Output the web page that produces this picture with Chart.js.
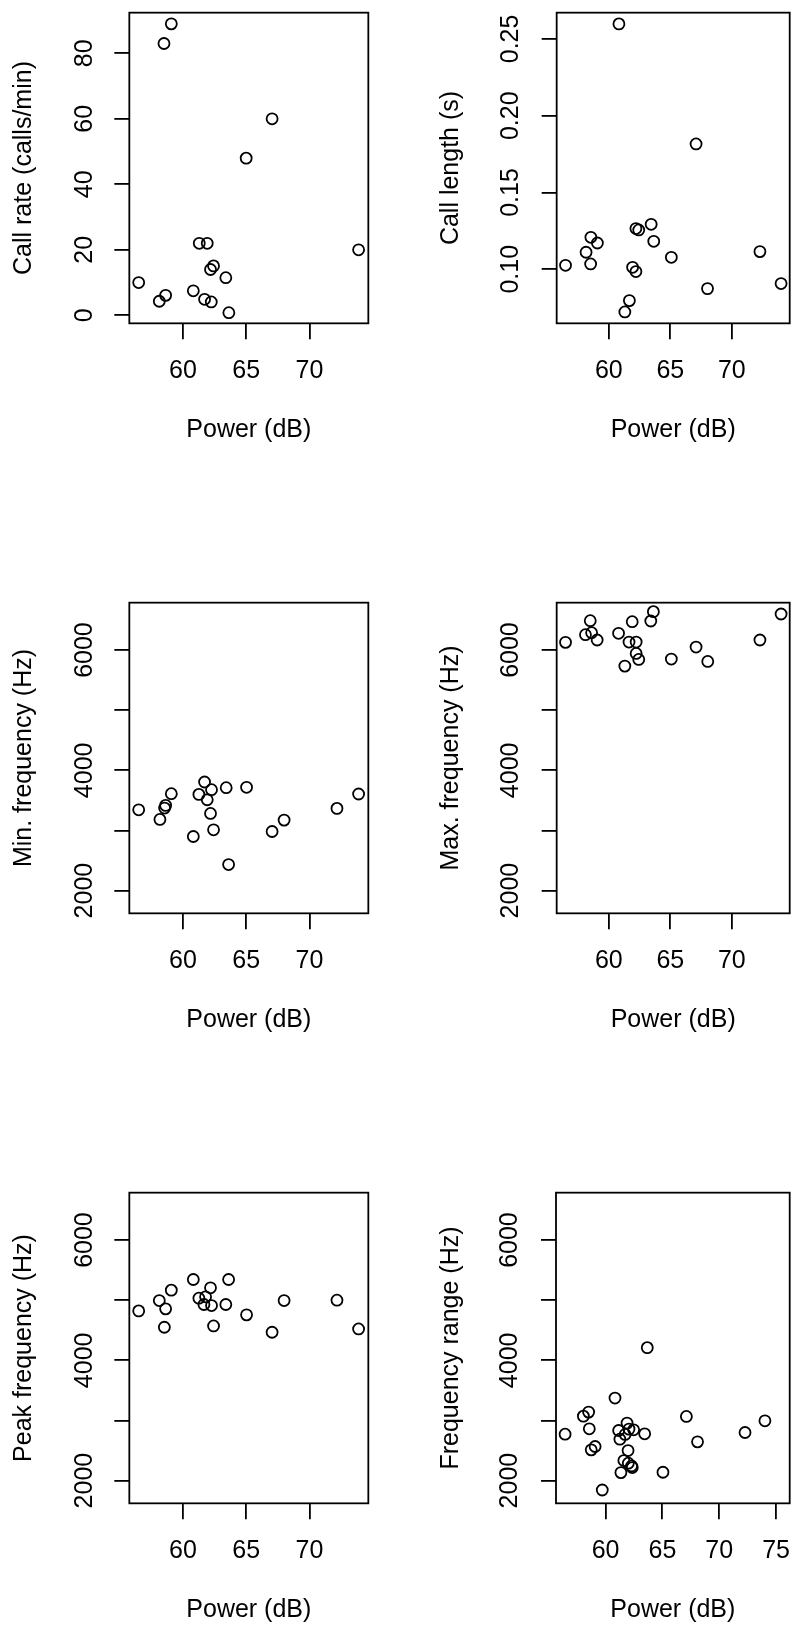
<!DOCTYPE html>
<html>
<head>
<meta charset="utf-8">
<script src="https://cdn.jsdelivr.net/npm/chart.js@4.4.1/dist/chart.umd.min.js"></script>
<style>
  html, body { margin: 0; padding: 0; background: #fff; }
  #page { position: relative; width: 797px; height: 1628px; overflow: hidden; }
  #page canvas { position: absolute; }
</style>
</head>
<body>
<div id="page"></div>
<script>
// 데이터: 패널별 Power(dB) 와 측정값
const callRatePower = [56.5, 58.13, 58.63, 58.5, 59.08, 60.82, 61.29, 61.92, 61.71, 62.24, 62.18, 62.42, 63.39, 63.63, 65.0, 67.05, 73.89];
const callRate = [10.0, 4.3, 6.1, 83.0, 89.0, 7.5, 22.0, 22.0, 4.9, 4.1, 14.0, 15.1, 11.5, 0.8, 48.0, 60.0, 20.0];

const callLengthPower = [56.48, 58.15, 58.54, 58.52, 59.07, 60.82, 61.3, 61.67, 61.93, 62.2, 62.2, 62.43, 63.44, 63.65, 65.08, 67.09, 68.02, 72.28, 74.0];
const callLength = [0.1026, 0.1111, 0.1208, 0.1035, 0.1171, 0.2598, 0.0722, 0.0796, 0.1013, 0.0985, 0.1265, 0.1256, 0.1293, 0.1182, 0.1078, 0.1816, 0.0874, 0.1115, 0.0907];

const minFreqPower = [56.5, 58.18, 58.55, 58.63, 59.08, 60.82, 61.26, 61.71, 61.92, 62.26, 62.18, 62.42, 63.42, 63.61, 65.03, 67.05, 68.0, 72.18, 73.89];
const minFreq = [3344, 3183, 3372, 3417, 3611, 2900, 3600, 3806, 3511, 3678, 3283, 3011, 3711, 2433, 3717, 2983, 3172, 3367, 3606];

const maxFreqPower = [56.48, 58.1, 58.49, 58.6, 59.05, 60.79, 61.3, 61.64, 61.9, 62.22, 62.22, 62.43, 63.41, 63.62, 65.08, 67.09, 68.04, 72.28, 74.0];
const maxFreq = [6128, 6256, 6489, 6289, 6167, 6278, 5733, 6133, 6472, 6133, 5944, 5844, 6483, 6639, 5850, 6050, 5811, 6167, 6600];

const peakFreqPower = [56.5, 58.13, 58.53, 58.63, 59.08, 60.82, 61.26, 61.66, 61.79, 62.18, 62.26, 62.42, 63.39, 63.61, 65.03, 67.05, 68.0, 72.18, 73.89];
const peakFreq = [4822, 4994, 4550, 4856, 5167, 5344, 5033, 4928, 5056, 5206, 4911, 4572, 4928, 5344, 4756, 4467, 4994, 5000, 4522];

const freqRangePower = [56.44, 58.05, 58.51, 58.57, 58.74, 59.08, 59.71, 60.83, 61.15, 61.26, 61.35, 61.61, 61.72, 61.89, 61.98, 62.06, 62.0, 62.29, 62.35, 62.47, 63.44, 63.67, 65.05, 67.11, 68.09, 72.27, 74.02];
const freqRange = [2772, 3072, 3139, 2861, 2511, 2567, 1844, 3372, 2833, 2689, 2133, 2333, 2767, 2956, 2500, 2856, 2289, 2244, 2217, 2844, 2778, 4211, 2139, 3067, 2644, 2800, 2994];

// 축 눈금
const powerTicks = [60, 65, 70];
const powerTicksWide = [60, 65, 70, 75];
const callRateTicks = [0, 20, 40, 60, 80];
const callRateTickLabels = ['0', '20', '40', '60', '80'];
const callLengthTicks = [0.10, 0.15, 0.20, 0.25];
const callLengthTickLabels = ['0.10', '0.15', '0.20', '0.25'];
const freqTicks = [2000, 3000, 4000, 5000, 6000];
const freqTickLabels = ['2000', '', '4000', '', '6000'];

const FAMILY = "'Liberation Sans', Arial, Helvetica, sans-serif";
const FONT = { family: FAMILY, size: 25 };
Chart.defaults.color = '#000';
Chart.defaults.font.family = FAMILY;
Chart.defaults.font.size = 25;

const CANVAS_H = 448;
const LINE_W = 1.8;

// 패널 배치 (box = 플롯 테두리 좌우, 페이지 좌표)
const panels = [
  { col: 0, row: 0, box: [129.33, 368.33], xs: callRatePower, ys: callRate, xTicks: powerTicks, xMin: 55.76, xMax: 74.66,
    yTicks: callRateTicks, yLabels: callRateTickLabels, yMin: -2.44, yMax: 92.42, yTitle: 'Call rate (calls/min)' },
  { col: 1, row: 0, box: [556.67, 796], xs: callLengthPower, ys: callLength, xTicks: powerTicks, xMin: 55.76, xMax: 74.7,
    yTicks: callLengthTicks, yLabels: callLengthTickLabels, yMin: 0.0648, yMax: 0.2671, yTitle: 'Call length (s)' },
  { col: 0, row: 1, box: [129.33, 368.33], xs: minFreqPower, ys: minFreq, xTicks: powerTicks, xMin: 55.76, xMax: 74.66,
    yTicks: freqTicks, yLabels: freqTickLabels, yMin: 1622, yMax: 6788, yTitle: 'Min. frequency (Hz)' },
  { col: 1, row: 1, box: [556.67, 796], xs: maxFreqPower, ys: maxFreq, xTicks: powerTicks, xMin: 55.76, xMax: 74.7,
    yTicks: freqTicks, yLabels: freqTickLabels, yMin: 1622, yMax: 6788, yTitle: 'Max. frequency (Hz)' },
  { col: 0, row: 2, box: [129.33, 368.33], xs: peakFreqPower, ys: peakFreq, xTicks: powerTicks, xMin: 55.76, xMax: 74.66,
    yTicks: freqTicks, yLabels: freqTickLabels, yMin: 1622, yMax: 6788, yTitle: 'Peak frequency (Hz)' },
  { col: 1, row: 2, box: [556, 795], xs: freqRangePower, ys: freqRange, xTicks: powerTicksWide, xMin: 55.64, xMax: 76.2,
    yTicks: freqTicks, yLabels: freqTickLabels, yMin: 1622, yMax: 6788, yTitle: 'Frequency range (Hz)' }
];

const colLeft = [0, 398];
const colWidth = [398, 399];
const rowTop = [0, 590, 1180];
const boxTop = 12.67, boxBottom = 323.33;   // 캔버스 기준
const yTitleX = [24.6, 451.3];               // 페이지 기준 y축 제목 중심
const yLabelGap = [44, 45.5];                // 테두리에서 y 눈금 글자 중심까지

// 플롯 테두리
const boxPlugin = {
  id: 'box',
  afterDatasetsDraw(chart) {
    const { ctx, chartArea: a } = chart;
    ctx.save();
    ctx.strokeStyle = '#000';
    ctx.lineWidth = LINE_W;
    ctx.strokeRect(a.left, a.top, a.right - a.left, a.bottom - a.top);
    ctx.restore();
  }
};

const page = document.getElementById('page');
const measure = document.createElement('canvas').getContext('2d');
measure.font = '25px ' + FAMILY;

panels.forEach(p => {
  const cl = colLeft[p.col], cw = colWidth[p.col], ct = rowTop[p.row];
  const canvas = document.createElement('canvas');
  canvas.width = cw;
  canvas.height = CANVAS_H;
  canvas.style.left = cl + 'px';
  canvas.style.top = ct + 'px';
  page.appendChild(canvas);

  const yAxisWidth = p.box[0] - cl;
  const rightPad = cl + cw - p.box[1];
  const widest = Math.max(...p.yLabels.map(t => measure.measureText(t).width));

  new Chart(canvas, {
    type: 'scatter',
    data: {
      datasets: [{
        data: p.xs.map((x, i) => ({ x: x, y: p.ys[i] })),
        pointStyle: 'circle',
        pointRadius: 5.5,
        pointHoverRadius: 5.5,
        pointBorderWidth: 1.8,
        pointBorderColor: '#000',
        pointBackgroundColor: 'rgba(0,0,0,0)',
        showLine: false,
        clip: 20
      }]
    },
    options: {
      responsive: false,
      animation: false,
      events: [],
      layout: { padding: { top: boxTop, right: rightPad, left: 0, bottom: 0 } },
      plugins: { legend: { display: false }, tooltip: { enabled: false } },
      scales: {
        x: {
          type: 'linear',
          position: 'bottom',
          min: p.xMin,
          max: p.xMax,
          bounds: 'data',
          afterBuildTicks: s => { s.ticks = p.xTicks.map(v => ({ value: v })); },
          afterFit: s => { s.height = CANVAS_H - boxBottom; s.paddingLeft = 0; s.paddingRight = 0; },
          ticks: { autoSkip: false, maxRotation: 0, minRotation: 0, padding: 16.3, font: FONT, color: '#000',
            callback: v => String(v) },
          grid: { drawOnChartArea: false, drawTicks: true, tickLength: 16, color: '#000', lineWidth: LINE_W },
          border: { display: false },
          title: { display: true, text: 'Power (dB)', font: FONT, color: '#000', padding: { top: 0, bottom: 2.4 } }
        },
        y: {
          type: 'linear',
          position: 'left',
          min: p.yMin,
          max: p.yMax,
          bounds: 'data',
          afterBuildTicks: s => { s.ticks = p.yTicks.map(v => ({ value: v })); },
          afterFit: s => { s.width = yAxisWidth; s.paddingTop = 0; s.paddingBottom = 0; },
          ticks: { autoSkip: false, minRotation: 90, maxRotation: 90, crossAlign: 'center',
            padding: yLabelGap[p.col] - 15 - widest / 2, font: FONT, color: '#000',
            callback: v => p.yLabels[p.yTicks.indexOf(v)] },
          grid: { drawOnChartArea: false, drawTicks: true, tickLength: 15, color: '#000', lineWidth: LINE_W },
          border: { display: false },
          title: { display: true, text: p.yTitle, font: FONT, color: '#000',
            padding: { top: yTitleX[p.col] - cl - 15, bottom: 0 } }
        }
      }
    },
    plugins: [boxPlugin]
  });
});
</script>
</body>
</html>
